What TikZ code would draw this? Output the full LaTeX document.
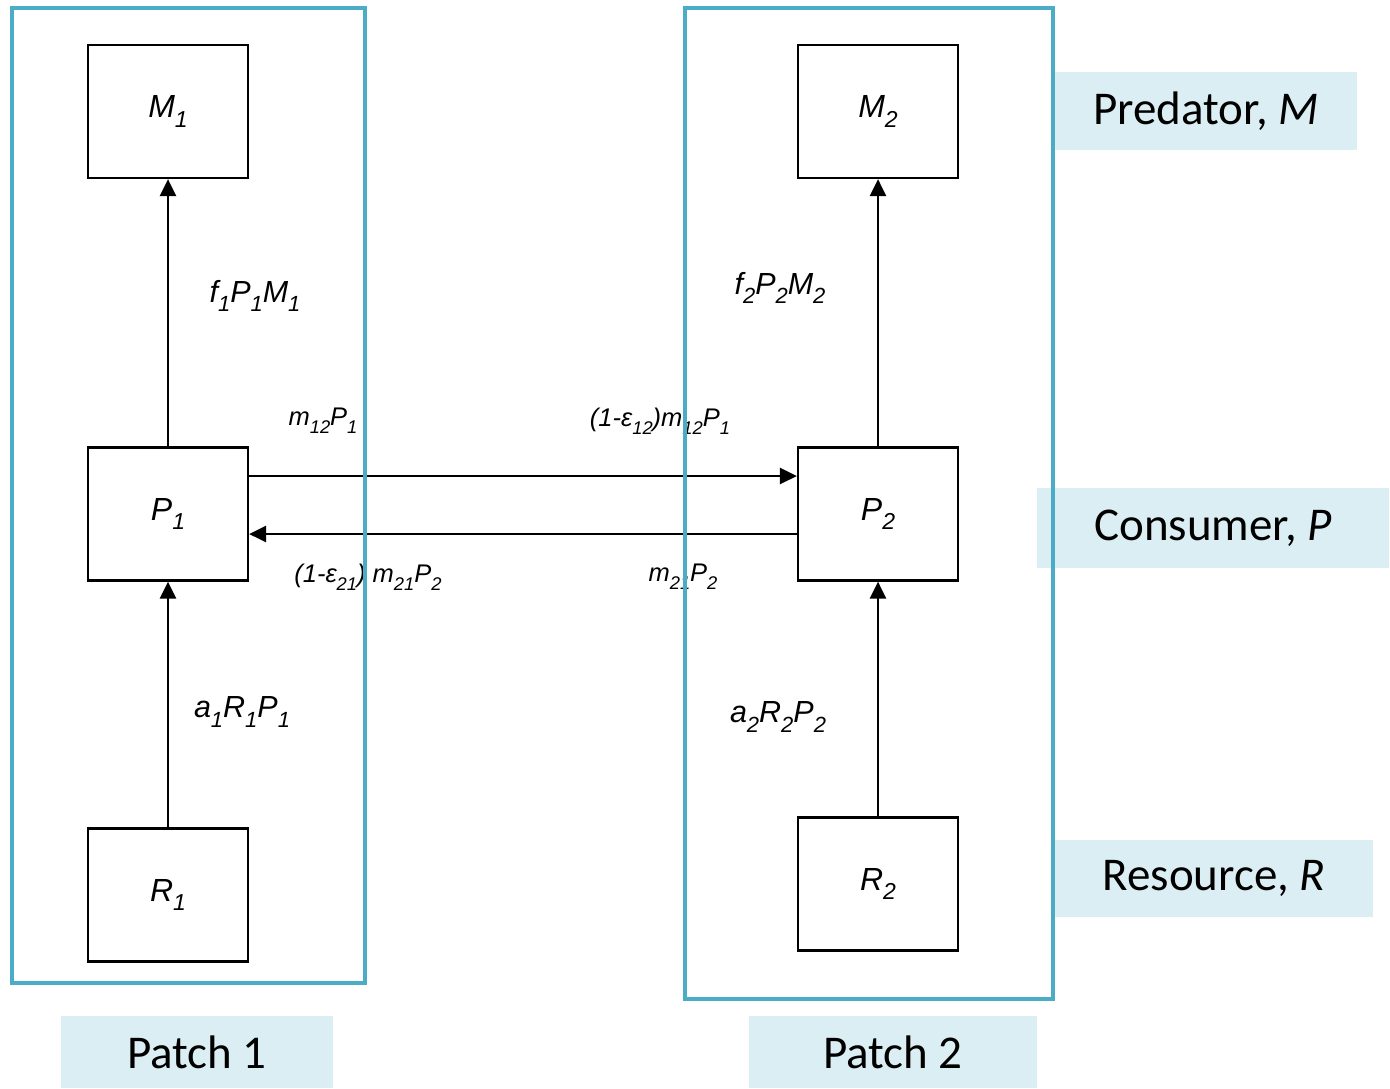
\documentclass[tikz,border=0pt]{standalone}
\usepackage{fontspec}
\usepackage{graphicx}
\setmainfont{Carlito}
\newfontfamily\arialfont{Liberation Sans}
\usetikzlibrary{arrows.meta}
\definecolor{patchblue}{HTML}{4BACC6}
\definecolor{tagfill}{HTML}{DBEEF3}
% lowered, reduced subscript in the running font
\newcommand\lw[1]{\raisebox{-0.3em}{\scalebox{0.72}{#1}}}
\tikzset{
  stock/.style={draw=black, line width=2.2pt, minimum width=160pt, minimum height=133pt,
                font=\arialfont\itshape\fontsize{32}{36}\selectfont, inner sep=0pt},
  flow/.style={-{Triangle[length=17pt,width=16pt]}, line width=2.7pt},
  ratebig/.style={font=\arialfont\itshape\fontsize{30.5}{36}\selectfont, inner sep=0pt},
  ratesmall/.style={font=\arialfont\itshape\fontsize{25.5}{30}\selectfont, inner sep=0pt},
  tag/.style={fill=tagfill, inner sep=0pt, font=\fontsize{47}{52}\selectfont},
  patch/.style={draw=patchblue, line width=3.4pt, inner sep=0pt}
}
\begin{document}
\begin{tikzpicture}[x=1pt, y=-1pt]
\useasboundingbox (0,0) rectangle (1390,1088);

% compartments of each patch
\node[stock] (M1) at (168,111.5) {M\lw{1}};
\node[stock] (P1) at (168,514) {P\lw{1}};
\node[stock] (R1) at (168,895) {R\lw{1}};
\node[stock] (M2) at (878,111.5) {M\lw{2}};
\node[stock] (P2) at (878,514) {P\lw{2}};
\node[stock] (R2) at (878,884) {R\lw{2}};

% feeding and dispersal fluxes
\draw[flow] (P1.north) -- (M1.south);
\draw[flow] (R1.north) -- (P1.south);
\draw[flow] (P2.north) -- (M2.south);
\draw[flow] (R2.north) -- (P2.south);
\draw[flow] ([yshift=38pt]P1.east) -- ([yshift=38pt]P2.west);
\draw[flow] ([yshift=-20pt]P2.west) -- ([yshift=-20pt]P1.east);

% rate labels
\node[ratebig] (f1) at (255,296) {f\lw{1}P\lw{1}M\lw{1}};
\node[ratebig] (a1) at (242,712) {a\lw{1}R\lw{1}P\lw{1}};
\node[ratebig] (f2) at (780,288) {f\lw{2}P\lw{2}M\lw{2}};
\node[ratebig] (a2) at (778,717) {a\lw{2}R\lw{2}P\lw{2}};
\node[ratesmall] (out12) at (323,421) {m\lw{12}P\lw{1}};
\node[ratesmall] (in12) at (660,421) {(1-ε\lw{12})m\lw{12}P\lw{1}};
\node[ratesmall] (in21) at (368,577) {(1-ε\lw{21}) m\lw{21}P\lw{2}};
\node[ratesmall] (out21) at (683,577) {m\lw{21}P\lw{2}};

% legend tags
\node[tag, minimum width=302pt, minimum height=78pt] (tagM) at (1206,111) {Predator, \textit{M}};
\node[tag, minimum width=352pt, minimum height=80pt] (tagP) at (1213,528) {Consumer, \textit{P}};
\node[tag, minimum width=318pt, minimum height=77pt] (tagR) at (1214,878.5) {Resource, \textit{R}};
\node[tag, minimum width=272pt, minimum height=72pt] (tag1) at (197,1052) {Patch 1};
\node[tag, minimum width=288pt, minimum height=72pt] (tag2) at (893,1052) {Patch 2};

% patch outlines on top
\node[patch, minimum width=353pt, minimum height=975pt] (patch1) at (188.5,495.5) {};
\node[patch, minimum width=368pt, minimum height=991pt] (patch2) at (869,503.5) {};
\end{tikzpicture}
\end{document}
